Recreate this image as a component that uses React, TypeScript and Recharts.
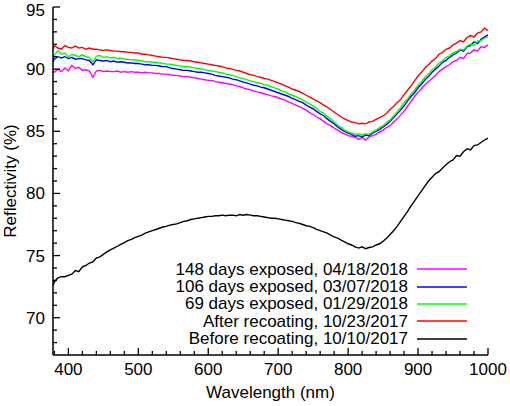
import { LineChart, Line, XAxis, YAxis } from 'recharts'

const FONT = '"Liberation Sans", Arial, Helvetica, sans-serif'

// wavelength (nm)
const WAVELENGTH = [
  378,
  380, 385, 390, 395, 400, 405, 410, 415, 420, 425,
  430, 435, 440, 445, 450, 455, 460, 465, 470, 475,
  480, 485, 490, 495, 500, 505, 510, 515, 520, 525,
  530, 535, 540, 545, 550, 555, 560, 565, 570, 575,
  580, 585, 590, 595, 600, 605, 610, 615, 620, 625,
  630, 635, 640, 645, 650, 655, 660, 665, 670, 675,
  680, 685, 690, 695, 700, 705, 710, 715, 720, 725,
  730, 735, 740, 745, 750, 755, 760, 765, 770, 775,
  780, 785, 790, 795, 800, 805, 810, 815, 820, 825,
  830, 835, 840, 845, 850, 855, 860, 865, 870, 875,
  880, 885, 890, 895, 900, 905, 910, 915, 920, 925,
  930, 935, 940, 945, 950, 955, 960, 965, 970, 975,
  980, 985, 990, 995, 1000,
]

// reflectivity (%)
const BEFORE_RECOATING = [
  72.6,
  72.9, 73.2, 73.3, 73.3, 73.4, 73.5, 73.8, 73.7, 74.1, 74.2,
  74.4, 74.5, 74.8, 74.9, 75.1, 75.3, 75.45, 75.6, 75.75, 75.9,
  76.05, 76.2, 76.3, 76.45, 76.55, 76.65, 76.8, 76.9, 77.0, 77.1,
  77.2, 77.3, 77.35, 77.45, 77.5, 77.55, 77.65, 77.75, 77.8, 77.9,
  77.95, 78.0, 78.05, 78.1, 78.15, 78.15, 78.2, 78.2, 78.25, 78.2,
  78.25, 78.25, 78.2, 78.3, 78.25, 78.3, 78.25, 78.2, 78.2, 78.15,
  78.1, 78.05, 78.0, 78.0, 77.95, 77.9, 77.85, 77.8, 77.75, 77.65,
  77.6, 77.5, 77.4, 77.35, 77.25, 77.1, 77.0, 76.9, 76.8, 76.65,
  76.5, 76.4, 76.25, 76.1, 75.95, 75.85, 75.7, 75.6, 75.7, 75.55,
  75.65, 75.7, 75.85, 75.95, 76.15, 76.4, 76.7, 77.0, 77.35, 77.75,
  78.15, 78.55, 79.0, 79.4, 79.8, 80.2, 80.6, 81.0, 81.3, 81.6,
  81.75, 82.05, 82.3, 82.55, 82.7, 83.05, 83.0, 83.35, 83.6, 83.5,
  83.85, 83.9, 84.1, 84.3, 84.45,
]

const AFTER_RECOATING = [
  91.6,
  91.9, 91.7, 91.6, 91.9, 91.75, 91.7, 91.85, 91.7, 91.75, 91.6,
  91.7, 91.6, 91.6, 91.55, 91.5, 91.55, 91.5, 91.45, 91.45, 91.4,
  91.4, 91.35, 91.35, 91.3, 91.3, 91.2, 91.2, 91.15, 91.1, 91.05,
  91.0, 90.95, 90.95, 90.9, 90.85, 90.8, 90.75, 90.7, 90.7, 90.65,
  90.6, 90.55, 90.5, 90.45, 90.4, 90.35, 90.3, 90.25, 90.2, 90.1,
  90.05, 90.0, 89.9, 89.85, 89.75, 89.65, 89.55, 89.5, 89.4, 89.35,
  89.25, 89.2, 89.1, 89.0, 88.9, 88.8, 88.65, 88.55, 88.4, 88.3,
  88.2, 88.05, 87.9, 87.75, 87.6, 87.45, 87.3, 87.1, 86.95, 86.75,
  86.55, 86.35, 86.15, 86.0, 85.85, 85.75, 85.7, 85.6, 85.65, 85.6,
  85.75, 85.8, 85.95, 86.1, 86.25, 86.45, 86.75, 87.0, 87.3, 87.55,
  87.95, 88.3, 88.65, 89.05, 89.45, 89.75, 90.1, 90.35, 90.65, 90.85,
  91.2, 91.35, 91.6, 91.7, 91.95, 92.1, 92.3, 92.2, 92.55, 92.7,
  92.6, 92.9, 93.0, 93.3, 93.1,
]

const DAYS_69 = [
  90.8,
  91.1, 91.5, 91.2, 91.3, 91.0, 91.2, 91.1, 91.0, 91.15, 91.0,
  90.95, 90.55, 91.05, 91.1, 90.95, 91.0, 90.9, 90.95, 90.85, 90.9,
  90.8, 90.8, 90.75, 90.75, 90.7, 90.65, 90.6, 90.6, 90.55, 90.55,
  90.5, 90.45, 90.4, 90.4, 90.35, 90.3, 90.25, 90.2, 90.2, 90.15,
  90.1, 90.05, 90.0, 89.95, 89.9, 89.85, 89.8, 89.75, 89.7, 89.6,
  89.55, 89.5, 89.4, 89.3, 89.25, 89.15, 89.05, 89.0, 88.9, 88.85,
  88.75, 88.7, 88.6, 88.5, 88.4, 88.25, 88.15, 88.0, 87.9, 87.8,
  87.65, 87.5, 87.35, 87.2, 87.0, 86.85, 86.6, 86.45, 86.2, 86.0,
  85.75, 85.5, 85.3, 85.1, 84.95, 84.85, 84.75, 84.8, 84.7, 84.8,
  84.75, 84.95, 85.1, 85.3, 85.45, 85.7, 85.9, 86.25, 86.55, 86.9,
  87.3, 87.6, 88.0, 88.3, 88.7, 89.0, 89.35, 89.6, 89.95, 90.15,
  90.5, 90.65, 90.95, 91.05, 91.3, 91.4, 91.6, 91.55, 91.85, 92.0,
  91.9, 92.25, 92.3, 92.5, 92.6,
]

const DAYS_106 = [
  90.6,
  90.8, 91.0, 90.9, 91.0, 90.85, 90.95, 90.8, 90.85, 90.85, 90.75,
  90.7, 90.35, 90.75, 90.7, 90.65, 90.7, 90.6, 90.65, 90.55, 90.6,
  90.55, 90.5, 90.5, 90.45, 90.45, 90.4, 90.35, 90.35, 90.3, 90.3,
  90.25, 90.2, 90.2, 90.1, 90.05, 90.0, 89.95, 89.9, 89.9, 89.85,
  89.8, 89.75, 89.75, 89.7, 89.65, 89.6, 89.5, 89.45, 89.4, 89.35,
  89.3, 89.2, 89.15, 89.05, 88.95, 88.9, 88.8, 88.7, 88.65, 88.55,
  88.5, 88.4, 88.3, 88.2, 88.1, 88.0, 87.9, 87.8, 87.65, 87.55,
  87.4, 87.3, 87.1, 86.95, 86.8, 86.6, 86.4, 86.25, 86.0, 85.8,
  85.6, 85.35, 85.15, 85.0, 84.85, 84.75, 84.6, 84.65, 84.55, 84.7,
  84.65, 84.85, 85.0, 85.15, 85.35, 85.55, 85.8, 86.1, 86.4, 86.7,
  87.05, 87.45, 87.8, 88.1, 88.5, 88.8, 89.15, 89.4, 89.75, 90.0,
  90.25, 90.55, 90.7, 90.95, 91.15, 91.3, 91.55, 91.45, 91.8, 91.9,
  92.2, 92.05, 92.4, 92.6, 92.75,
]

const DAYS_148 = [
  89.8,
  89.75, 90.0, 89.8, 90.1, 89.85, 90.3, 90.05, 90.15, 89.9, 89.95,
  89.85, 89.35, 89.85, 89.9, 89.8, 89.85, 89.8, 89.8, 89.85, 89.75,
  89.8, 89.75, 89.8, 89.75, 89.75, 89.7, 89.75, 89.7, 89.7, 89.65,
  89.65, 89.6, 89.6, 89.55, 89.5, 89.5, 89.45, 89.4, 89.4, 89.35,
  89.3, 89.25, 89.2, 89.15, 89.1, 89.1, 89.0, 88.95, 88.9, 88.85,
  88.8, 88.75, 88.65, 88.6, 88.5, 88.4, 88.35, 88.25, 88.15, 88.1,
  88.0, 87.95, 87.85, 87.8, 87.7, 87.6, 87.5, 87.35, 87.25, 87.1,
  87.0, 86.85, 86.7, 86.5, 86.35, 86.15, 86.0, 85.8, 85.6, 85.45,
  85.25, 85.1, 84.9, 84.8, 84.65, 84.6, 84.5, 84.35, 84.5, 84.3,
  84.55, 84.65, 84.75, 84.95, 85.1, 85.3, 85.45, 85.75, 86.0, 86.3,
  86.6, 87.0, 87.4, 87.8, 88.15, 88.45, 88.75, 89.0, 89.25, 89.5,
  89.8, 90.0, 90.2, 90.35, 90.6, 90.7, 90.95, 90.85, 91.25, 91.3,
  91.55, 91.45, 91.8, 91.75, 91.95,
]

const X_TICKS = [
  380, 400, 420, 440, 460, 480, 500, 520, 540, 560, 580, 600, 620, 640, 660, 680,
  700, 720, 740, 760, 780, 800, 820, 840, 860, 880, 900, 920, 940, 960, 980, 1000,
]
const Y_TICKS = [
  68, 69, 70, 71, 72, 73, 74, 75, 76, 77, 78, 79, 80, 81, 82, 83, 84, 85,
  86, 87, 88, 89, 90, 91, 92, 93, 94, 95,
]

// legend order, top to bottom
const SERIES = [
  { key: 'd148', name: '148 days exposed, 04/18/2018', color: '#ff00ff' },
  { key: 'd106', name: '106 days exposed, 03/07/2018', color: '#0000ff' },
  { key: 'd69', name: '69 days exposed, 01/29/2018', color: '#00ff00' },
  { key: 'after', name: 'After recoating, 10/23/2017', color: '#ff0000' },
  { key: 'before', name: 'Before recoating, 10/10/2017', color: '#000000' },
]
// drawing order, back to front
const DRAW_ORDER = ['before', 'after', 'd148', 'd106', 'd69']

const data = WAVELENGTH.map((w, i) => ({
  w,
  before: BEFORE_RECOATING[i],
  after: AFTER_RECOATING[i],
  d69: DAYS_69[i],
  d106: DAYS_106[i],
  d148: DAYS_148[i],
}))

function makeTick(side: 'bottom' | 'top' | 'left' | 'right') {
  return function Tick({ x, y, payload }: any) {
    const v = payload.value
    const major = v % 5 === 0 && (side === 'left' || side === 'right' || v % 100 === 0)
    const len = major ? 7 : 4
    let line
    if (side === 'bottom') line = <line x1={x} x2={x} y1={y} y2={y - len} />
    else if (side === 'top') line = <line x1={x} x2={x} y1={y} y2={y + len} />
    else if (side === 'left') line = <line x1={x} x2={x + len} y1={y} y2={y} />
    else line = <line x1={x} x2={x - len} y1={y} y2={y} />
    return (
      <g stroke="#000" strokeWidth={1.3}>
        {line}
        {major && side === 'bottom' && (
          <text x={x} y={y + 20} textAnchor="middle" fontSize={17} fontFamily={FONT} fill="#000" stroke="none">
            {v}
          </text>
        )}
        {major && side === 'left' && (
          // keep the top label inside the picture
          <text x={x - 8} y={Math.max(y + 6, 15.5)} textAnchor="end" fontSize={17} fontFamily={FONT} fill="#000" stroke="none">
            {v}
          </text>
        )}
      </g>
    )
  }
}

const BottomTick = makeTick('bottom')
const TopTick = makeTick('top')
const LeftTick = makeTick('left')
const RightTick = makeTick('right')

function Legend() {
  return (
    <div style={{ position: 'absolute', left: 0, top: 260.6, width: 467, fontFamily: FONT, fontSize: 17 }}>
      {SERIES.map((s) => (
        <div key={s.key} style={{ display: 'flex', justifyContent: 'flex-end', alignItems: 'center', height: 17.4 }}>
          <span style={{ whiteSpace: 'nowrap', lineHeight: '17.4px' }}>{s.name}</span>
          <svg width={50} height={4} style={{ marginLeft: 9, display: 'block' }}>
            <line x1={0} x2={50} y1={2} y2={2} stroke={s.color} strokeWidth={1.6} />
          </svg>
        </div>
      ))}
    </div>
  )
}

export default function App() {
  const axisLine = { stroke: '#000', strokeWidth: 1.5 }
  return (
    <div style={{ position: 'absolute', left: 0, top: 0, width: 510, height: 406, background: '#fff', fontFamily: FONT }}>
      <LineChart width={510} height={406} data={data} margin={{ top: 7, right: 22, left: 0, bottom: 0 }}>
        <XAxis
          xAxisId="b"
          dataKey="w"
          type="number"
          domain={[378, 1000]}
          allowDataOverflow
          ticks={X_TICKS}
          interval={0}
          height={51}
          tickSize={0}
          tickMargin={0}
          tickLine={false}
          axisLine={axisLine}
          tick={<BottomTick />}
          label={{
            content: (p: any) => {
              const vb = p.viewBox || { x: 53, y: 355, width: 435, height: 51 }
              return (
                <text x={vb.x + vb.width / 2} y={vb.y + 43} textAnchor="middle" fontSize={17} fontFamily={FONT} fill="#000">
                  Wavelength (nm)
                </text>
              )
            },
          }}
        />
        <XAxis
          xAxisId="t"
          orientation="top"
          dataKey="w"
          type="number"
          domain={[378, 1000]}
          allowDataOverflow
          ticks={X_TICKS}
          interval={0}
          height={0}
          tickSize={0}
          tickMargin={0}
          tickLine={false}
          axisLine={axisLine}
          tick={<TopTick />}
        />
        <YAxis
          yAxisId="l"
          type="number"
          domain={[67, 95]}
          allowDataOverflow
          ticks={Y_TICKS}
          interval={0}
          width={53}
          tickSize={0}
          tickMargin={0}
          tickLine={false}
          axisLine={axisLine}
          tick={<LeftTick />}
          label={{
            content: (p: any) => {
              const vb = p.viewBox || { x: 0, y: 7, width: 53, height: 348 }
              const cx = vb.x + 16
              const cy = vb.y + vb.height / 2
              return (
                <text x={cx} y={cy} transform={`rotate(-90 ${cx} ${cy})`} textAnchor="middle" fontSize={17} fontFamily={FONT} fill="#000">
                  Reflectivity (%)
                </text>
              )
            },
          }}
        />
        <YAxis
          yAxisId="r"
          orientation="right"
          type="number"
          domain={[67, 95]}
          allowDataOverflow
          ticks={Y_TICKS}
          interval={0}
          width={0}
          tickSize={0}
          tickMargin={0}
          tickLine={false}
          axisLine={axisLine}
          tick={<RightTick />}
        />
        {DRAW_ORDER.map((k) => {
          const s = SERIES.find((x) => x.key === k)!
          return (
            <Line
              key={k}
              xAxisId="b"
              yAxisId="l"
              type="linear"
              dataKey={k}
              name={s.name}
              stroke={s.color}
              strokeWidth={1.4}
              dot={false}
              isAnimationActive={false}
            />
          )
        })}
      </LineChart>
      <Legend />
    </div>
  )
}
